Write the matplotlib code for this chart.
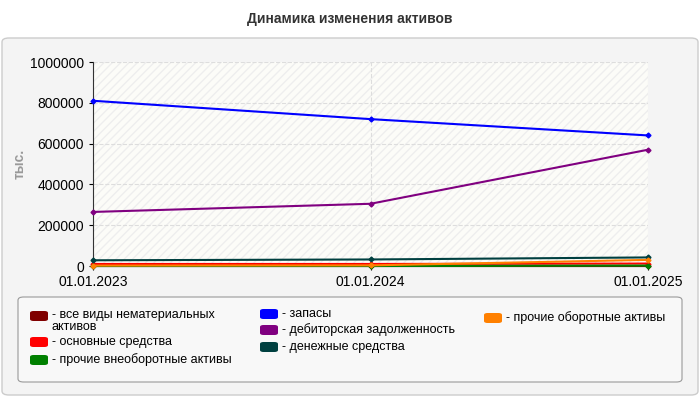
import matplotlib
matplotlib.use("Agg")
import matplotlib.pyplot as plt
from matplotlib.patches import FancyBboxPatch, Rectangle

plt.rcParams["font.family"] = ["Liberation Sans", "DejaVu Sans"]

dates = ["01.01.2023", "01.01.2024", "01.01.2025"]
names = ["- все виды нематериальных\nактивов", "- основные средства", "- прочие внеоборотные активы",
         "- запасы", "- дебиторская задолженность", "- денежные средства", "- прочие оборотные активы"]
colors = ["#800000", "#ff0000", "#008000", "#0000ff", "#800080", "#004040", "#ff8000"]
intang = [0, 0, 0]
fixed = [10000, 10000, 12000]
other_nc = [0, 0, 2000]
stocks = [810000, 720000, 640000]
receiv = [265000, 305000, 570000]
cash = [28000, 32000, 42000]
other_c = [2000, 3000, 30000]
series = [intang, fixed, other_nc, stocks, receiv, cash, other_c]
yticks = [0, 200000, 400000, 600000, 800000, 1000000]

W, H = 700, 400
fig = plt.figure(figsize=(7, 4), dpi=100)
fig.patch.set_facecolor("white")
fig.patches.append(FancyBboxPatch((2/W, 5/H), 696/W, 357/H, boxstyle="round,pad=0,rounding_size=0.01",
                                  transform=fig.transFigure, facecolor="#f4f4f4", edgecolor="#cccccc", lw=1,
                                  zorder=-10))
fig.text(0.5, 1 - 19/H, "Динамика изменения активов", ha="center", va="center", fontsize=10,
         fontweight="bold", color="#333333")
ax = fig.add_axes([93/W, 1 - 266/H, 555/W, 204/H])
ax.set_zorder(1)
ax.set_facecolor("#fcfcf8")
ax.add_patch(Rectangle((0, 0), 1, 1, transform=ax.transAxes, facecolor="none", hatch="////",
                       edgecolor="#eeeeee", lw=0, zorder=0))
x = [0, 1, 2]
for s, c in zip(series, colors):
    ax.plot(x, s, color=c, lw=1.5, marker="D", ms=2.5, zorder=3, clip_on=False)
ax.set_xlim(0, 2)
ax.set_ylim(0, 1000000)
ax.set_xticks(x)
ax.set_xticklabels(dates)
ax.set_yticks(yticks)
ax.set_yticklabels([str(v) for v in yticks])
ax.tick_params(labelsize=10, colors="#000000", length=3)
ax.grid(True, color="#dddddd", ls="--", lw=0.8)
for sp in ["top", "right"]:
    ax.spines[sp].set_visible(False)
ax.spines["left"].set_color("#333333")
ax.spines["bottom"].set_color("#333333")
ax.set_ylabel("тыс.", color="#999999", fontsize=10, fontweight="bold")
ax.yaxis.set_label_coords(-0.12, 0.5)

fig.patches.append(FancyBboxPatch((18/W, 1 - 382/H), 664/W, 85/H, boxstyle="round,pad=0,rounding_size=0.008",
                                  transform=fig.transFigure, facecolor="#f8f8f8", edgecolor="#999999", lw=0.8))
pos = [(30, 316), (30, 342), (30, 360), (260, 314), (260, 330), (260, 347), (484, 318)]
for (px, py), n, c in zip(pos, names, colors):
    fig.patches.append(FancyBboxPatch((px/W, 1 - (py + 5)/H), 18/W, 10/H, boxstyle="round,pad=0,rounding_size=0.005",
                                      transform=fig.transFigure, facecolor=c, edgecolor="none"))
    if "\n" in n:
        fig.text((px + 22)/W, 1 - 309/H, n, fontsize=9, va="top", color="#000000", linespacing=0.95)
    else:
        fig.text((px + 22)/W, 1 - py/H, n, fontsize=9, va="center", color="#000000")
fig.savefig("out.png", dpi=100)
